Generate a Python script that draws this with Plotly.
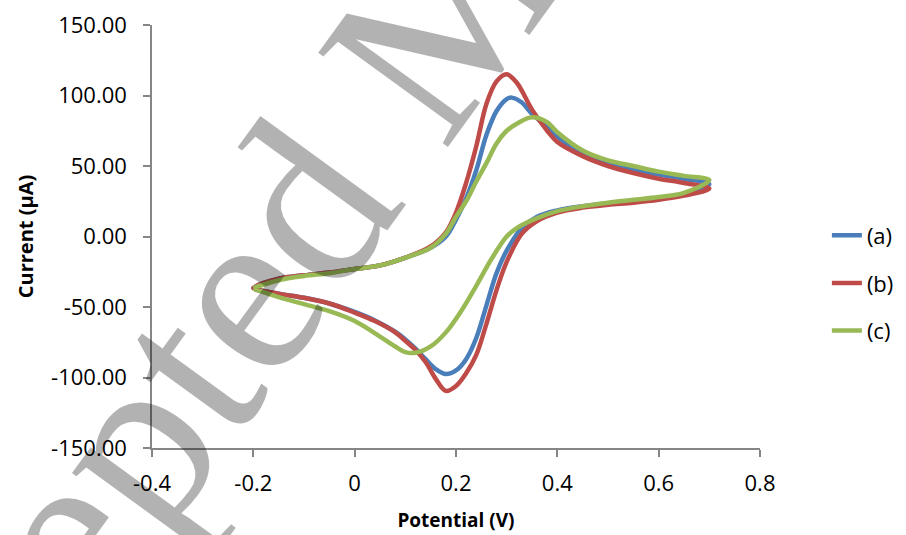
import plotly.graph_objects as go

# ---------------- data ----------------
# (a) blue: forward (anodic) scan then reverse (cathodic) scan
a_pot = [-0.20, -0.15, -0.10, -0.05, 0.00, 0.05, 0.10, 0.15, 0.18, 0.20, 0.22, 0.24, 0.26, 0.28, 0.30, 0.31,
         0.33, 0.35, 0.38, 0.40, 0.45, 0.50, 0.55, 0.60, 0.65, 0.70,
         0.65, 0.60, 0.55, 0.50, 0.45, 0.40, 0.36, 0.33, 0.30, 0.28, 0.26, 0.24, 0.22, 0.20, 0.18, 0.16,
         0.14, 0.12, 0.10, 0.08, 0.04, 0.00, -0.05, -0.10, -0.15, -0.20]
a_cur = [-36.5, -30, -27.5, -25.5, -23, -20.5, -15, -8, 0, 12, 27, 47, 72, 89, 97.5, 98.5,
         95, 87, 78, 71, 59, 52, 47.5, 44, 41, 37,
         30, 27, 25, 23.5, 21.5, 18.5, 14, 6, -10, -26, -49, -72, -87, -95, -97.5, -94,
         -87, -79.5, -73, -67.5, -59.5, -53.5, -47.5, -43.5, -40.5, -36.5]

# (b) red
b_pot = [-0.20, -0.15, -0.10, -0.05, 0.00, 0.05, 0.10, 0.15, 0.18, 0.20, 0.22, 0.24, 0.26, 0.28, 0.30, 0.32,
         0.35, 0.38, 0.40, 0.45, 0.50, 0.55, 0.60, 0.65, 0.70,
         0.65, 0.60, 0.55, 0.50, 0.45, 0.40, 0.36, 0.33, 0.30, 0.28, 0.26, 0.24, 0.22, 0.20, 0.18, 0.16,
         0.14, 0.12, 0.10, 0.08, 0.04, 0.00, -0.05, -0.10, -0.15, -0.20]
b_cur = [-36.5, -30, -27.5, -25.5, -23, -20.5, -15, -7, 3, 17, 38, 64, 94, 110, 115, 109,
         90, 75, 67, 57, 50, 45, 41, 38, 34,
         29, 26, 24, 22.5, 20.5, 17, 11, 2, -18, -38, -62, -84, -97, -106, -109.5, -101,
         -89, -80.5, -74, -68, -60, -54, -47.5, -43.5, -40.5, -36.5]

# (c) green
c_pot = [-0.20, -0.15, -0.10, -0.05, 0.00, 0.05, 0.10, 0.15, 0.18, 0.20, 0.22, 0.24, 0.26, 0.28, 0.30, 0.32,
         0.35, 0.38, 0.40, 0.45, 0.50, 0.55, 0.60, 0.65, 0.70,
         0.65, 0.60, 0.55, 0.50, 0.45, 0.40, 0.36, 0.32, 0.30, 0.27, 0.24, 0.21, 0.18, 0.15, 0.12, 0.10,
         0.08, 0.05, 0.00, -0.05, -0.10, -0.15, -0.20]
c_cur = [-36.5, -31, -28, -26, -23, -20.5, -15, -8, 2, 14, 25, 39, 52, 66, 75, 80,
         84.5, 81, 74, 61, 54, 50, 46, 43, 40,
         31, 28, 26, 24, 21.5, 18, 13, 6, 0, -16, -35, -53, -68, -78, -82.5, -82,
         -78, -71, -60, -53, -48, -43, -37]

series_names = ["(a)", "(b)", "(c)"]
series_colors = ["#4A7EBB", "#BE4B48", "#98B954"]

x_tickvals = [-0.4, -0.2, 0, 0.2, 0.4, 0.6, 0.8]
x_ticktext = ["-0.4", "-0.2", "0", "0.2", "0.4", "0.6", "0.8"]
y_tickvals = [150, 100, 50, 0, -50, -100, -150]
y_ticktext = ["150.00", "100.00", "50.00", "0.00", "-50.00", "-100.00", "-150.00"]

x_title = "Potential (V)"
y_title = "Current (µA)"
watermark = "Accepted Manuscript"

# ---------------- figure ----------------
FONT = "Open Sans"
AXIS_COLOR = "#868686"

fig = go.Figure()
for i, (xs, ys) in enumerate([(a_pot, a_cur), (b_pot, b_cur), (c_pot, c_cur)]):
    fig.add_trace(go.Scatter(
        x=xs, y=ys, mode="lines", name=series_names[i],
        legendgroup=series_names[i],
        line=dict(color=series_colors[i], width=4.5, shape="spline", smoothing=1.0),
    ))

fig.update_layout(
    width=906, height=535,
    margin=dict(l=152, r=146, t=25, b=87, autoexpand=False),
    paper_bgcolor="white", plot_bgcolor="white",
    font=dict(family=FONT, size=22, color="#000000"),
    showlegend=True,
    legend=dict(
        x=1.11, y=0.39, xanchor="left", yanchor="middle",
        font=dict(family=FONT, size=22, color="#000000"),
        tracegroupgap=16, traceorder="grouped",
        bgcolor="rgba(0,0,0,0)", borderwidth=0,
    ),
    xaxis=dict(
        range=[-0.4, 0.8], tickmode="array", tickvals=x_tickvals, ticktext=x_ticktext,
        showgrid=False, zeroline=False, showline=True, linecolor=AXIS_COLOR, linewidth=1.5,
        ticks="outside", ticklen=7, tickcolor=AXIS_COLOR, tickwidth=1.5,
        ticklabelstandoff=8, automargin=False,
        tickfont=dict(family=FONT, size=22, color="#000000"),
        title=dict(text="<b>" + x_title + "</b>", font=dict(family=FONT, size=19, color="#000000"), standoff=18),
    ),
    yaxis=dict(
        range=[-150, 150], tickmode="array", tickvals=y_tickvals, ticktext=y_ticktext,
        showgrid=False, zeroline=False, showline=True, linecolor=AXIS_COLOR, linewidth=1.5,
        ticks="outside", ticklen=7, tickcolor=AXIS_COLOR, tickwidth=1.5,
        ticklabelstandoff=12, automargin=False,
        tickfont=dict(family=FONT, size=22, color="#000000"),
        title=dict(text="<b>" + y_title + "</b>", font=dict(family=FONT, size=20, color="#000000"), standoff=12),
    ),
    annotations=[dict(
        text=watermark, xref="paper", yref="paper", x=0.433, y=0.937,
        xanchor="center", yanchor="middle", showarrow=False, textangle=-54,
        font=dict(family="Liberation Serif", size=245, color="rgba(0,0,0,0.3)"),
    )],
)

fig.write_html("out.html")
